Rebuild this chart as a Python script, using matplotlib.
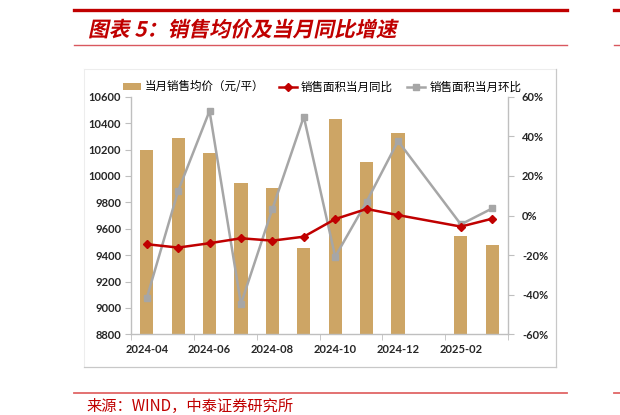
import numpy as np
import matplotlib
matplotlib.use("Agg")
import matplotlib.pyplot as plt
from matplotlib import patheffects
from matplotlib.transforms import Affine2D
from matplotlib.ticker import FuncFormatter, MultipleLocator, FixedLocator
from matplotlib.lines import Line2D
from matplotlib.patches import Patch

plt.rcParams['font.family'] = ['Lato', 'Noto Sans CJK SC', 'DejaVu Sans']

# data (2025-01 has no value)
months = ['2024-04', '2024-05', '2024-06', '2024-07', '2024-08', '2024-09',
          '2024-10', '2024-11', '2024-12', '2025-01', '2025-02', '2025-03']
avg_price = [10200, 10285, 10176, 9944, 9906, 9456,
             10433, 10103, 10323, np.nan, 9547, 9474]          # 元/平
area_yoy = [-14.5, -16.2, -14.0, -11.5, -12.7, -10.7,
            -1.8, 3.3, 0.2, np.nan, -5.6, -1.6]               # %
area_mom = [-41.8, 12.4, 52.8, -44.7, 3.3, 49.9,
            -20.8, 7.0, 37.6, np.nan, -4.5, 3.6]              # %

BAR = '#CDA565'
RED = '#C00000'
GREY = '#A6A6A6'
AXIS = '#BFBFBF'
W, H = 620, 415


class Oblique(patheffects.AbstractPathEffect):
    """fake italic for CJK glyphs: shear around a baseline (display px)"""
    def __init__(self, y0, angle=12):
        super().__init__()
        self.tr = Affine2D().translate(0, -y0).skew_deg(angle, 0).translate(0, y0)

    def draw_path(self, renderer, gc, tpath, affine, rgbFace=None):
        renderer.draw_path(gc, tpath, affine + self.tr, rgbFace)


fig = plt.figure(figsize=(W / 100, H / 100), dpi=100)


def hline(x0, x1, y, color, lw):
    fig.add_artist(Line2D([x0 / W, x1 / W], [1 - y / H, 1 - y / H],
                          transform=fig.transFigure, color=color, lw=lw))


def vline(x, y0, y1, color, lw):
    fig.add_artist(Line2D([x / W, x / W], [1 - y0 / H, 1 - y1 / H],
                          transform=fig.transFigure, color=color, lw=lw))


# header / footer rules
hline(74, 567, 10, RED, 2.4)
hline(74, 567, 45, '#D9585F', 1.0)
hline(74, 567, 393, '#E06666', 1.3)
hline(614, 620, 10, RED, 2.4)
hline(614, 620, 45, '#D9585F', 1.0)
hline(614, 620, 393, '#E06666', 1.3)

# chart frame
hline(84, 556, 69, '#EDEDED', 0.8)
vline(84, 69, 367, '#EDEDED', 0.8)
hline(84, 556, 367, '#C8C8C8', 0.9)
vline(556, 69, 367, '#C8C8C8', 0.9)

title_y = 30
fig.text(88 / W, 1 - title_y / H, '图表 5：销售均价及当月同比增速',
         family=['Noto Sans CJK SC', 'DejaVu Sans'], fontweight='bold',
         fontsize=15, color=RED, ha='left', va='center',
         path_effects=[Oblique(H - title_y - 6, 12)])

fig.text(86 / W, 1 - 406 / H, '来源：WIND，中泰证券研究所',
         family=['Noto Sans CJK SC', 'DejaVu Sans'], fontsize=11,
         color=RED, ha='left', va='center')

ax = fig.add_axes([131 / W, 1 - 334.3 / H, (508 - 131) / W, (334.3 - 96.7) / H])
x = np.arange(len(months))
ax.bar(x, avg_price, width=0.42, color=BAR, zorder=1)
ax.set_xlim(-0.5, len(months) - 0.5)
ax.set_ylim(8800, 10600)
ax.yaxis.set_major_locator(MultipleLocator(200))

ax.xaxis.set_major_locator(FixedLocator(x[::2]))
ax.set_xticklabels(months[::2])
ax.xaxis.set_minor_locator(FixedLocator(np.arange(-0.5, len(months), 2)))
ax.tick_params(axis='x', which='major', length=0, pad=7)
ax.tick_params(axis='x', which='minor', length=4, color=AXIS, direction='out')
ax.tick_params(axis='y', length=4, color=AXIS, direction='out', pad=3)
ax.tick_params(labelsize=8)
for lab in ax.get_xticklabels() + ax.get_yticklabels():
    lab.set_fontweight('bold')
    lab.set_color('#262626')

ax2 = ax.twinx()
ok = [i for i in x if not np.isnan(area_yoy[i])]
ax2.plot(ok, [area_mom[i] for i in ok], color=GREY, lw=1.8,
         marker='s', ms=4.5, zorder=3)
ax2.plot(ok, [area_yoy[i] for i in ok], color=RED, lw=1.8,
         marker='D', ms=4.5, zorder=4)
ax2.set_ylim(-60, 60)
ax2.yaxis.set_major_locator(MultipleLocator(20))
ax2.yaxis.set_major_formatter(FuncFormatter(lambda v, p: f'{v:.0f}%'))
ax2.tick_params(axis='y', length=4, color=AXIS, direction='out', pad=6, labelsize=8)
for lab in ax2.get_yticklabels():
    lab.set_fontweight('bold')
    lab.set_color('#262626')

for a in (ax, ax2):
    a.spines['top'].set_visible(False)
    for s in ('left', 'right', 'bottom'):
        a.spines[s].set_color(AXIS)
        a.spines[s].set_linewidth(1.0)
ax.spines['right'].set_visible(False)
ax2.spines['left'].set_visible(False)
ax2.spines['bottom'].set_visible(False)

handles = [Patch(facecolor=BAR, edgecolor='none'),
           Line2D([], [], color=RED, lw=1.8, marker='D', ms=4),
           Line2D([], [], color=GREY, lw=1.8, marker='s', ms=4)]
labels = ['当月销售均价（元/平）', '销售面积当月同比', '销售面积当月环比']
fig.legend(handles, labels, loc='center', bbox_to_anchor=(322 / W, 1 - 87 / H),
           ncol=3, frameon=False, handlelength=1.6,
           handleheight=0.6, handletextpad=0.35, columnspacing=1.2,
           prop={'family': ['Noto Sans CJK SC', 'DejaVu Sans'], 'size': 8.3})

fig.savefig('out.png', dpi=100)
